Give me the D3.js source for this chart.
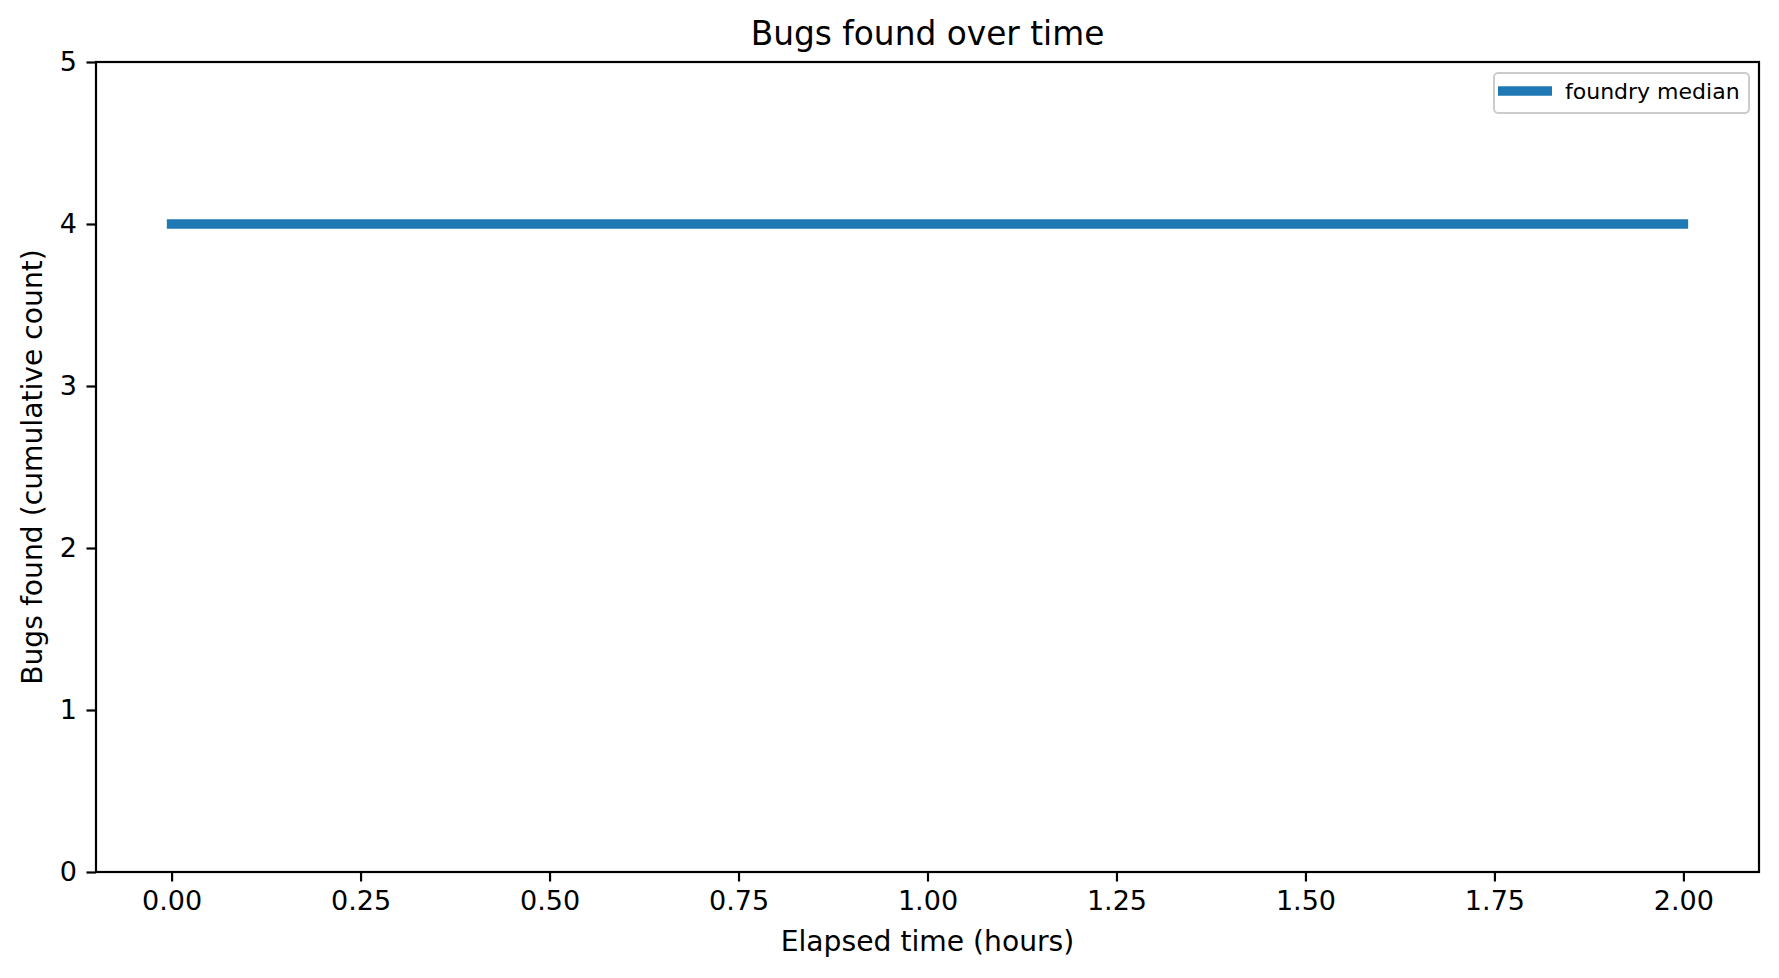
<!DOCTYPE html>
<html lang="en">
<head>
    <meta charset="UTF-8">
    <title>Bugs found over time</title>
</head>
<style>
    body { margin: 0; background: white; }
    svg text { font-family: "DejaVu Sans", sans-serif; fill: black; }
    .axis path, .axis line { stroke: black; stroke-width: 2.2; }
    .axis text { font-size: 27px; }
</style>
<body>
<svg class="chart"></svg>
<script src="https://cdn.jsdelivr.net/npm/d3@7"></script>
<script>
    // data
    var hours = [0, 2]
    var medianBugs = [4, 4]
    var xTicks = [0, 0.25, 0.5, 0.75, 1, 1.25, 1.5, 1.75, 2]
    var yTicks = [0, 1, 2, 3, 4, 5]
    var seriesName = "foundry median"

    var W = 1779, H = 978
    // plot area edges (window.top is reserved, so use other names)
    var pLeft = 96, pRight = 1759, pTop = 62, pBottom = 872

    var svg = d3.select('.chart').attr('width', W).attr('height', H)

    var x = d3.scaleLinear().domain([-0.1, 2.1]).range([pLeft, pRight])
    var y = d3.scaleLinear().domain([0, 5]).range([pBottom, pTop])

    // axes
    var xAxis = d3.axisBottom(x).tickValues(xTicks).tickFormat(d3.format('.2f'))
        .tickSize(9.5).tickPadding(9.5)
    svg.append('g').attr('class', 'axis')
        .attr('transform', 'translate(0,' + pBottom + ')')
        .call(xAxis)
        .call(function (g) { g.select('.domain').remove() })

    var yAxis = d3.axisLeft(y).tickValues(yTicks).tickFormat(d3.format('d'))
        .tickSize(9.5).tickPadding(9.5)
    svg.append('g').attr('class', 'axis')
        .attr('transform', 'translate(' + pLeft + ',0)')
        .call(yAxis)
        .call(function (g) { g.select('.domain').remove() })

    // frame
    svg.append('rect')
        .attr('x', pLeft).attr('y', pTop)
        .attr('width', pRight - pLeft).attr('height', pBottom - pTop)
        .attr('fill', 'none').attr('stroke', 'black').attr('stroke-width', 2.2)

    // line
    var pts = hours.map(function (h, i) { return [h, medianBugs[i]] })
    var line = d3.line().x(function (d) { return x(d[0]) }).y(function (d) { return y(d[1]) })
    svg.append('path')
        .datum(pts)
        .attr('d', line)
        .attr('fill', 'none')
        .attr('stroke', '#1f77b4')
        .attr('stroke-width', 9.5)
        .attr('stroke-linecap', 'square')

    // title and labels
    svg.append('text')
        .attr('x', (pLeft + pRight) / 2).attr('y', 45)
        .attr('text-anchor', 'middle')
        .style('font-size', '32.8px')
        .text('Bugs found over time')

    svg.append('text')
        .attr('x', (pLeft + pRight) / 2).attr('y', 951)
        .attr('text-anchor', 'middle')
        .style('font-size', '28.2px')
        .text('Elapsed time (hours)')

    svg.append('text')
        .attr('transform', 'translate(42,' + (pTop + pBottom) / 2 + ') rotate(-90)')
        .attr('text-anchor', 'middle')
        .style('font-size', '28.2px')
        .text('Bugs found (cumulative count)')

    // legend
    var lg = svg.append('g')
    lg.append('rect')
        .attr('x', 1494).attr('y', 73).attr('width', 255).attr('height', 40)
        .attr('rx', 4).attr('fill', 'white').attr('fill-opacity', 0.8)
        .attr('stroke', '#cccccc').attr('stroke-width', 2)
    lg.append('line')
        .attr('x1', 1498).attr('x2', 1552).attr('y1', 91).attr('y2', 91)
        .attr('stroke', '#1f77b4').attr('stroke-width', 9.5)
    lg.append('text')
        .attr('x', 1565).attr('y', 99)
        .style('font-size', '22px')
        .text(seriesName)
</script>
</body>
</html>
